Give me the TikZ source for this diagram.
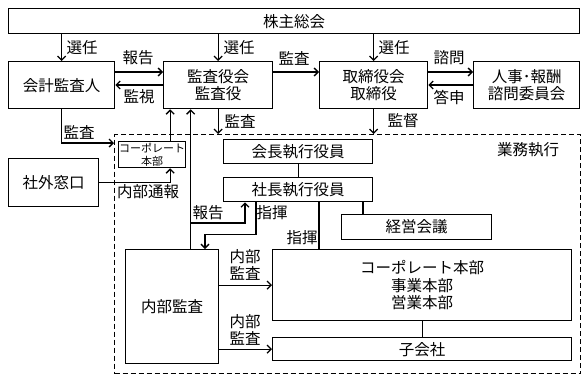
\documentclass[tikz,border=0pt]{standalone}
\usepackage{fontspec}
\setmainfont{Noto Sans CJK JP}
\usetikzlibrary{arrows.meta}
\begin{document}
\begin{tikzpicture}[x=1pt,y=-1pt, line width=1.3pt,
  box/.style={draw, inner sep=0pt, anchor=north west, align=center, font=\fontsize{15.5}{17.5}\selectfont},
  arr/.style={-{Straight Barb[length=4pt,width=8pt]}},
  lab/.style={inner sep=0pt, font=\fontsize{15.5}{17}\selectfont, align=center}]
\useasboundingbox (0,0) rectangle (588,380);
% frame
\node[draw, dash pattern=on 5pt off 3pt, inner sep=0pt, anchor=north west, minimum width=466pt, minimum height=239pt] (exec) at (114,134) {};
% boxes
\node[box, minimum width=571pt, minimum height=25pt] (kabu) at (8,8) {株主総会};
\node[box, minimum width=106pt, minimum height=47pt] (kaikei) at (8,61) {会計監査人};
\node[box, minimum width=109pt, minimum height=47pt] (kansa) at (163,61) {監査役会\\監査役};
\node[box, minimum width=108pt, minimum height=47pt] (tori) at (319,61) {取締役会\\取締役};
\node[box, minimum width=106pt, minimum height=47pt] (jinji) at (473,61) {人事･報酬\\諮問委員会};
\node[box, minimum width=67pt, minimum height=26pt, font=\fontsize{11}{12.5}\selectfont] (corp) at (118,141) {コーポレート\\本部};
\node[box, minimum width=90pt, minimum height=48pt] (shagai) at (8,158) {社外窓口};
\node[box, minimum width=149pt, minimum height=24pt] (kaicho) at (223,139) {会長執行役員};
\node[box, minimum width=149pt, minimum height=24pt] (shacho) at (223,177) {社長執行役員};
\node[box, minimum width=150pt, minimum height=25pt] (keiei) at (341,214) {経営会議};
\node[box, minimum width=93pt, minimum height=114pt] (naibu) at (125,249) {内部監査};
\node[box, minimum width=299pt, minimum height=71pt] (honbu) at (272,249) {コーポレート本部\\事業本部\\営業本部};
\node[box, minimum width=299pt, minimum height=23pt] (kogaisha) at (272,337) {子会社};
\node[lab] (gyomu) at (528,150) {業務執行};
% top connectors
\draw[arr] (kaikei.north |- kabu.south) -- (kaikei.north);
\draw[arr] (kansa.north |- kabu.south) -- (kansa.north);
\draw[arr] (tori.north |- kabu.south) -- (tori.north);
\node[lab] (l1) at (82,48) {選任};
\node[lab] (l2) at (239,48) {選任};
\node[lab] (l3) at (394,48) {選任};
\draw[arr] ([yshift=-11pt]kaikei.north east) -- ([yshift=-11pt]kansa.north west);
\draw[arr] ([yshift=-24pt]kansa.north west) -- ([yshift=-24pt]kaikei.north east);
\node[lab] (l4) at (138,58) {報告};
\node[lab] (l5) at (139,97) {監視};
\draw[arr] ([yshift=-11pt]kansa.north east) -- ([yshift=-11pt]tori.north west);
\node[lab] (l6) at (294,58) {監査};
\draw[arr] ([yshift=-11pt]tori.north east) -- ([yshift=-11pt]jinji.north west);
\draw[arr] ([yshift=-24pt]jinji.north west) -- ([yshift=-24pt]tori.north east);
\node[lab] (l7) at (449,58) {諮問};
\node[lab] (l8) at (449,97) {答申};
\draw[arr] (kansa.south) -- (kansa.south |- exec.north);
\node[lab] (l9) at (240,121) {監査};
\draw[arr] (tori.south) -- (tori.south |- exec.north);
\node[lab] (l10) at (403,121) {監督};
\draw[arr] (kaikei.south) |- ([yshift=-9pt]exec.north west);
\node[lab] (l11) at (79,132) {監査};
% corp small
\draw[arr] ([xshift=18pt]corp.north) -- ([xshift=18pt]corp.north |- kansa.south);
\draw[arr] (shagai.east) -| ([xshift=18pt]corp.south);
\node[lab] (l12) at (148,192) {内部通報};
% internal audit links
\draw[arr] ([xshift=18.5pt]naibu.north) -- ([xshift=18.5pt]naibu.north |- kansa.south);
\coordinate (rep) at (190,223);
\draw[arr] (rep) -| ([xshift=22pt]shacho.south west);
\node[lab] (l13) at (208,213) {報告};
\draw[arr] ([xshift=33pt]shacho.south west) -- ++(0,32) -| ([xshift=80pt]naibu.north west);
\node[lab] (l14) at (272,213) {指揮};
\draw ([xshift=96pt]shacho.south west) -- ([xshift=96pt]shacho.south west |- honbu.north);
\node[lab] (l15) at (302,238) {指揮};
\draw ([xshift=140pt]shacho.south west) -- ([xshift=140pt]shacho.south west |- keiei.north);
\draw (kaicho) -- (shacho);
\draw[arr] (naibu.east |- honbu.west) -- (honbu.west);
\draw[arr] (naibu.east |- kogaisha.west) -- (kogaisha.west);
\node[lab] (l16) at (245,265) {内部\\監査};
\node[lab] (l17) at (245,330) {内部\\監査};
\draw (honbu) -- (kogaisha);
\end{tikzpicture}
\end{document}
